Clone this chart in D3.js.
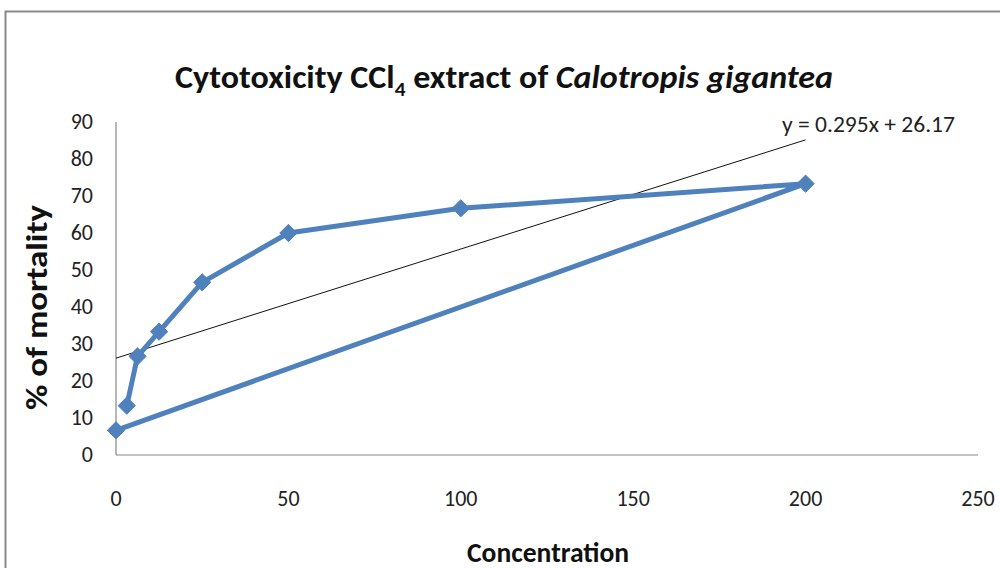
<!DOCTYPE html>
<html><head><meta charset="utf-8">
<script src="https://cdn.jsdelivr.net/npm/d3@7"></script>
<style>body{margin:0;background:#fff}svg{display:block}</style>
</head><body>
<svg id="c" width="1000" height="568"></svg>
<script>
const concentration = [3.125, 6.25, 12.5, 25, 50, 100, 200, 0];
const mortality = [13.33, 26.67, 33.33, 46.67, 60, 66.67, 73.33, 6.67];
const xTicks = [0, 50, 100, 150, 200, 250];
const yTicks = [0, 10, 20, 30, 40, 50, 60, 70, 80, 90];
const trendSlope = 0.295, trendIntercept = 26.17;
const trendLabel = "y = 0.295x + 26.17";

const svg = d3.select("#c");
const font = "Carlito, Calibri, Lato, sans-serif";
svg.append("rect").attr("x",5.5).attr("y",11.5).attr("width",1100).attr("height",700)
  .attr("fill","none").attr("stroke","#8a8a8a").attr("stroke-width",2);

const x = d3.scaleLinear().domain([0,250]).range([116,978]);
const y = d3.scaleLinear().domain([0,90]).range([455,122]);

svg.append("line").attr("x1",x(0)).attr("x2",x(0)).attr("y1",y(90)).attr("y2",y(0)).attr("stroke","#868686").attr("stroke-width",1.2);
svg.append("line").attr("x1",x(0)).attr("x2",x(250)).attr("y1",y(0)).attr("y2",y(0)).attr("stroke","#868686").attr("stroke-width",1.2);

svg.selectAll(".yt").data(yTicks).enter().append("text")
  .attr("x",93).attr("y",d=>y(d)-1).attr("dy","0.36em").attr("text-anchor","end")
  .attr("font-family",font).attr("font-size",22).attr("fill","#222").text(d=>d);
svg.selectAll(".xt").data(xTicks).enter().append("text")
  .attr("x",d=>x(d)).attr("y",498).attr("dy","0.36em").attr("text-anchor","middle")
  .attr("font-family",font).attr("font-size",22).attr("fill","#222").text(d=>d);

const xs = d3.extent(concentration);
svg.append("line").attr("x1",x(xs[0])).attr("y1",y(trendSlope*xs[0]+trendIntercept))
  .attr("x2",x(xs[1])).attr("y2",y(trendSlope*xs[1]+trendIntercept))
  .attr("stroke","#111").attr("stroke-width",1);

const pts = concentration.map((c,i)=>[c, mortality[i]]);
svg.append("path").datum(pts)
  .attr("d", d3.line().x(d=>x(d[0])).y(d=>y(d[1])))
  .attr("fill","none").attr("stroke","#4F81BD").attr("stroke-width",5).attr("stroke-linejoin","round");
svg.selectAll(".m").data(pts).enter().append("path")
  .attr("transform",d=>`translate(${x(d[0])},${y(d[1])})`)
  .attr("d", d3.symbol().type(d3.symbolDiamond2).size(190))
  .attr("fill","#4F81BD").attr("stroke","#4F81BD").attr("stroke-width",1);

svg.append("text").attr("x",782).attr("y",131.5).attr("font-family",font).attr("font-size",22)
  .attr("textLength",173).attr("lengthAdjust","spacingAndGlyphs")
  .attr("fill","#222").text(trendLabel);

const t = svg.append("text").attr("x",175).attr("y",88)
  .attr("textLength",658).attr("lengthAdjust","spacingAndGlyphs")
  .attr("font-family",font).attr("font-size",32).attr("font-weight","bold").attr("fill","#111");
t.append("tspan").text("Cytotoxicity CCl");
t.append("tspan").attr("font-size",20).attr("dy",8).text("4");
t.append("tspan").attr("dy",-8).text(" extract of ");
t.append("tspan").attr("font-style","italic").text("Calotropis gigantea");

svg.append("text").attr("transform","translate(47,307.5) rotate(-90)").attr("text-anchor","middle")
  .attr("textLength",205).attr("lengthAdjust","spacingAndGlyphs")
  .attr("font-family",font).attr("font-size",30).attr("font-weight","bold").attr("fill","#111").text("% of mortality");
svg.append("text").attr("x",548).attr("y",561.5).attr("text-anchor","middle")
  .attr("textLength",162).attr("lengthAdjust","spacingAndGlyphs")
  .attr("font-family",font).attr("font-size",28).attr("font-weight","bold").attr("fill","#111").text("Concentration");
</script>
</body></html>
